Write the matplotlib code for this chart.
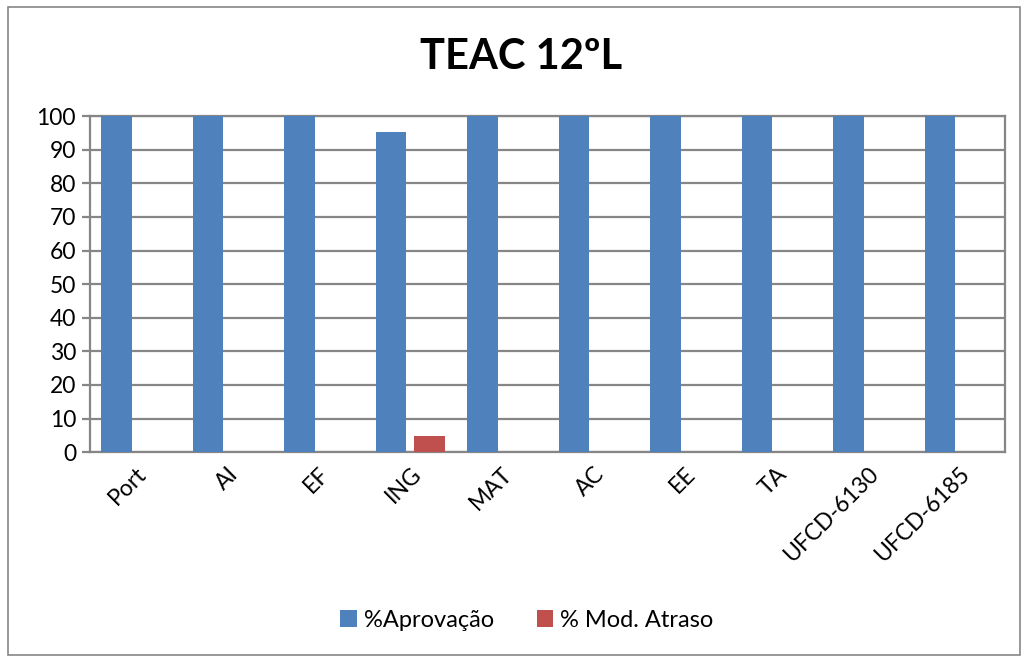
import numpy as np
import matplotlib.pyplot as plt
from matplotlib.patches import Rectangle

plt.rcParams['font.family'] = ['Lato', 'DejaVu Sans']

categories = ["Port", "AI", "EF", "ING", "MAT", "AC", "EE", "TA", "UFCD-6130", "UFCD-6185"]
aprovacao = [100, 100, 100, 95.24, 100, 100, 100, 100, 100, 100]
mod_atraso = [0, 0, 0, 4.76, 0, 0, 0, 0, 0, 0]

blue = "#4f81bd"
red = "#c0504d"
grid_col = "#868686"

fig = plt.figure(figsize=(10.25, 6.6), dpi=100)
fig.patches.append(Rectangle((0.008, 0.008), 0.987, 0.982, transform=fig.transFigure,
                             fill=False, edgecolor=grid_col, linewidth=1.2))

ax = fig.add_axes([0.0878, 0.315, 0.8927, 0.509])
x = np.arange(len(categories))
w = 0.33
ax.bar(x - 0.21, aprovacao, w, color=blue, label="%Aprovação", zorder=3)
ax.bar(x + 0.21, mod_atraso, w, color=red, label="% Mod. Atraso", zorder=3)

ax.set_xlim(-0.5, len(categories) - 0.5)
ax.set_ylim(0, 100)
ax.set_yticks(range(0, 101, 10))
ax.yaxis.grid(True, color=grid_col, linewidth=1.6, zorder=0)
for s in ax.spines.values():
    s.set_color(grid_col)
    s.set_linewidth(1.6)
ax.tick_params(axis='y', length=6, color=grid_col, width=1.6, labelsize=16.5, pad=4)
ax.tick_params(axis='x', length=0, labelsize=16.5, pad=8)
ax.set_xticks(x)
ax.set_xticklabels(categories, rotation=45, ha='right', rotation_mode='anchor')

fig.text(0.508, 0.913, "TEAC 12ºL", ha='center', va='center', fontsize=30, fontweight='bold')
fig.legend(loc='center', bbox_to_anchor=(0.514, 0.06), ncol=2, frameon=False,
           fontsize=17, handlelength=0.7, handleheight=0.7, columnspacing=1.8, handletextpad=0.3)

fig.savefig("out.png", dpi=100)
